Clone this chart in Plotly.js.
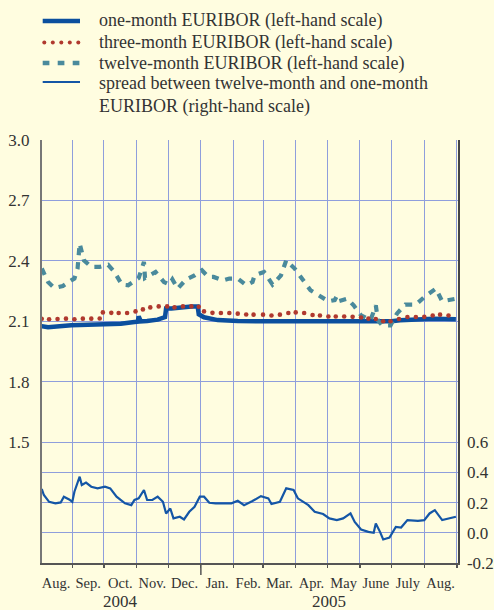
<!DOCTYPE html>
<html><head><meta charset="utf-8">
<script src="https://cdn.plot.ly/plotly-3.0.1.min.js"></script>
<style>html,body{margin:0;padding:0;background:#fffde0;}#chart{width:494px;height:610px;}</style>
</head><body><div id="chart"></div>
<script>
// ---------- data ----------
const oneMonthDates = ['2004-08-03','2004-08-09','2004-08-31','2004-10-01','2004-10-17','2004-10-30','2004-11-02','2004-11-03','2004-11-05','2004-11-11','2004-11-21','2004-11-28','2004-11-29','2004-12-04','2004-12-13','2004-12-23','2004-12-29','2004-12-30','2005-01-04','2005-01-08','2005-01-17','2005-02-05','2005-02-19','2005-03-15','2005-04-10','2005-05-10','2005-06-10','2005-07-01','2005-07-09','2005-08-04','2005-08-10','2005-08-31'];
const oneMonthValues = [2.076,2.071,2.080,2.083,2.088,2.096,2.098,2.124,2.099,2.101,2.108,2.121,2.163,2.163,2.169,2.173,2.173,2.135,2.120,2.116,2.106,2.101,2.100,2.101,2.100,2.100,2.099,2.100,2.105,2.110,2.113,2.110];

const threeMonthDates = ['2004-08-03','2004-08-10','2004-08-18','2004-08-26','2004-09-03','2004-09-11','2004-09-19','2004-09-27','2004-09-30','2004-10-08','2004-10-15','2004-10-23','2004-10-31','2004-11-07','2004-11-14','2004-11-22','2004-11-30','2004-12-07','2004-12-15','2004-12-23','2004-12-30','2005-01-04','2005-01-12','2005-01-20','2005-01-28','2005-02-05','2005-02-13','2005-02-20','2005-03-01','2005-03-09','2005-03-17','2005-03-25','2005-04-01','2005-04-09','2005-04-17','2005-04-24','2005-05-02','2005-05-09','2005-05-17','2005-05-25','2005-06-02','2005-06-09','2005-06-16','2005-06-23','2005-06-30','2005-07-08','2005-07-16','2005-07-24','2005-08-01','2005-08-09','2005-08-16','2005-08-24'];
const threeMonthValues = [2.113,2.110,2.111,2.113,2.110,2.113,2.113,2.114,2.144,2.142,2.141,2.141,2.149,2.159,2.169,2.174,2.174,2.169,2.174,2.174,2.172,2.149,2.142,2.141,2.141,2.138,2.134,2.133,2.133,2.129,2.133,2.141,2.144,2.141,2.131,2.129,2.124,2.124,2.124,2.122,2.119,2.113,2.111,2.100,2.100,2.111,2.121,2.121,2.122,2.129,2.133,2.129];

const twelveMonthDates = ['2004-08-03','2004-08-09','2004-08-15','2004-08-23','2004-08-31','2004-09-03','2004-09-06','2004-09-08','2004-09-12','2004-09-19','2004-09-27','2004-10-05','2004-10-11','2004-10-18','2004-10-24','2004-10-30','2004-11-03','2004-11-08','2004-11-09','2004-11-19','2004-11-27','2004-12-02','2004-12-05','2004-12-10','2004-12-18','2004-12-26','2005-01-02','2005-01-08','2005-01-13','2005-01-22','2005-01-28','2005-02-05','2005-02-13','2005-02-19','2005-02-21','2005-03-02','2005-03-10','2005-03-18','2005-03-23','2005-03-31','2005-04-07','2005-04-15','2005-04-22','2005-05-02','2005-05-08','2005-05-10','2005-05-12','2005-05-20','2005-05-26','2005-06-02','2005-06-11','2005-06-16','2005-06-18','2005-06-22','2005-06-30','2005-07-06','2005-07-14','2005-07-24','2005-08-02','2005-08-12','2005-08-18','2005-08-28','2005-08-31'];
const twelveMonthValues = [2.362,2.295,2.265,2.275,2.303,2.312,2.362,2.486,2.403,2.370,2.370,2.380,2.345,2.282,2.279,2.303,2.315,2.395,2.315,2.345,2.295,2.282,2.308,2.262,2.308,2.328,2.353,2.320,2.320,2.303,2.312,2.312,2.279,2.295,2.328,2.345,2.282,2.328,2.403,2.362,2.312,2.254,2.232,2.199,2.205,2.225,2.200,2.212,2.179,2.129,2.105,2.179,2.105,2.080,2.080,2.138,2.183,2.183,2.225,2.262,2.199,2.209,2.212];

const spreadDates = ['2004-08-03','2004-08-05','2004-08-10','2004-08-16','2004-08-21','2004-08-24','2004-08-29','2004-09-01','2004-09-03','2004-09-08','2004-09-10','2004-09-14','2004-09-19','2004-09-25','2004-10-02','2004-10-07','2004-10-13','2004-10-21','2004-10-27','2004-10-30','2004-11-03','2004-11-08','2004-11-11','2004-11-16','2004-11-21','2004-11-26','2004-11-29','2004-12-03','2004-12-06','2004-12-12','2004-12-16','2004-12-21','2004-12-26','2004-12-31','2005-01-04','2005-01-09','2005-01-15','2005-01-23','2005-01-30','2005-02-05','2005-02-11','2005-02-19','2005-02-27','2005-03-06','2005-03-09','2005-03-17','2005-03-23','2005-03-30','2005-04-03','2005-04-13','2005-04-19','2005-04-27','2005-05-03','2005-05-10','2005-05-16','2005-05-23','2005-05-27','2005-06-02','2005-06-09','2005-06-14','2005-06-16','2005-06-20','2005-06-23','2005-06-29','2005-07-05','2005-07-10','2005-07-16','2005-07-26','2005-08-01','2005-08-06','2005-08-11','2005-08-18','2005-08-25','2005-08-31'];
const spreadValues = [0.290,0.250,0.205,0.195,0.201,0.239,0.221,0.205,0.272,0.371,0.316,0.332,0.305,0.294,0.305,0.294,0.239,0.195,0.183,0.217,0.228,0.283,0.217,0.217,0.239,0.205,0.128,0.161,0.095,0.106,0.088,0.139,0.172,0.239,0.239,0.199,0.195,0.195,0.195,0.212,0.183,0.210,0.243,0.228,0.190,0.205,0.294,0.283,0.228,0.183,0.139,0.124,0.095,0.084,0.095,0.128,0.072,0.022,0.006,0.000,0.062,0.006,-0.044,-0.031,0.039,0.035,0.084,0.079,0.084,0.128,0.150,0.084,0.095,0.106];

const legendLabels = ['one-month EURIBOR (left-hand scale)','three-month EURIBOR (left-hand scale)','twelve-month EURIBOR (left-hand scale)','spread between twelve-month and one-month','EURIBOR (right-hand scale)'];
const monthStarts = ['2004-08-01','2004-09-01','2004-10-01','2004-11-01','2004-12-01','2005-01-01','2005-02-01','2005-03-01','2005-04-01','2005-05-01','2005-06-01','2005-07-01','2005-08-01','2005-09-01'];
const monthLabels = ['Aug.','Sep.','Oct.','Nov.','Dec.','Jan.','Feb.','Mar.','Apr.','May','June','July','Aug.'];
const yearLabels = ['2004','2005'];
const yearBounds = ['2004-08-01','2005-01-01','2005-09-01'];
const leftTicks = [1.5,1.8,2.1,2.4,2.7,3.0];
const rightTicks = [-0.2,0.0,0.2,0.4,0.6];

// ---------- styling / layout ----------
const W=494,H=610,M={l:42,r:36,t:140,b:47};
const PW=W-M.l-M.r, PH=H-M.t-M.b;
const px2x=p=>(p-M.l)/PW, px2y=p=>(H-M.b-p)/PH;
const BG='#fffde0', GRID='#8f9edc', TXT='#333333';
const C1='#0b4f9e', C3='#b0392e', C12='#4a8a9c', CS='#1456a6';
const FONT='Liberation Serif';

function mid(a,b){const ta=Date.parse(a+'T00:00:00Z'),tb=Date.parse(b+'T00:00:00Z');return new Date((ta+tb)/2).toISOString().slice(0,19).replace('T',' ');}
const monthMids = monthLabels.map((_,i)=>mid(monthStarts[i],monthStarts[i+1]));
const yearMids = yearLabels.map((_,i)=>mid(yearBounds[i],yearBounds[i+1]));

const traces = [
  {x:spreadDates,y:spreadValues,yaxis:'y2',mode:'lines',line:{color:CS,width:2.2},name:legendLabels[3],showlegend:false},
  {x:oneMonthDates,y:oneMonthValues,mode:'lines',line:{color:C1,width:4.5},name:legendLabels[0],showlegend:false},
  {x:twelveMonthDates,y:twelveMonthValues,mode:'lines',line:{color:C12,width:4.2,dash:'7px,7px'},name:legendLabels[2],showlegend:false},
  {x:threeMonthDates,y:threeMonthValues,mode:'markers',marker:{color:C3,size:4.6},name:legendLabels[1],showlegend:false}
];

const shapes=[];
const annotations=[];
const rowY=[21,42.5,63,82];
const lx0=42.7,lx1=80;
shapes.push({type:'line',xref:'paper',yref:'paper',x0:px2x(lx0),x1:px2x(lx1),y0:px2y(rowY[0]),y1:px2y(rowY[0]),line:{color:C1,width:4.5}});
for(let i=0;i<5;i++){const cx=44.3+i*8.5,r=2.0;shapes.push({type:'circle',xref:'paper',yref:'paper',x0:px2x(cx-r),x1:px2x(cx+r),y0:px2y(rowY[1]-r),y1:px2y(rowY[1]+r),fillcolor:C3,line:{width:0}});}
shapes.push({type:'line',xref:'paper',yref:'paper',x0:px2x(lx0),x1:px2x(lx1),y0:px2y(rowY[2]),y1:px2y(rowY[2]),line:{color:C12,width:4.5,dash:'6.7px,8.3px'}});
shapes.push({type:'line',xref:'paper',yref:'paper',x0:px2x(lx0),x1:px2x(lx1),y0:px2y(rowY[3]),y1:px2y(rowY[3]),line:{color:CS,width:2.2}});
const textY=[21,42.5,63,83,106.5];
legendLabels.forEach((t,i)=>annotations.push({text:t,xref:'paper',yref:'paper',x:px2x(97),y:px2y(textY[i]),xanchor:'left',yanchor:'middle',showarrow:false,font:{family:FONT,size:18,color:TXT}}));
// year labels
yearLabels.forEach((t,i)=>annotations.push({text:t,xref:'x',yref:'paper',x:yearMids[i],y:px2y(601.5),yanchor:'middle',xanchor:'center',showarrow:false,font:{family:FONT,size:17,color:TXT}}));
// long year-separator tick
shapes.push({type:'line',xref:'x',yref:'paper',x0:monthStarts[5],x1:monthStarts[5],y0:0,y1:px2y(575),line:{color:'#555',width:1.5}});

const layout={
  width:W,height:H,margin:M,paper_bgcolor:BG,plot_bgcolor:BG,showlegend:false,
  font:{family:FONT,color:TXT},
  xaxis:{type:'date',range:['2004-08-03 06:00','2005-09-02 00:00'],tickmode:'array',tickvals:monthMids,ticktext:monthLabels,
    ticks:'',showgrid:false,tickangle:0,tickfont:{family:FONT,size:14.5,color:TXT},ticklabelstandoff:6,
    showline:true,linecolor:'#555',linewidth:1.5,zeroline:false,
    minor:{tickmode:'linear',tick0:'2004-08-01',dtick:'M1',showgrid:true,gridcolor:GRID,gridwidth:1,ticks:'outside',ticklen:3,tickcolor:'#555',tickwidth:1.2}},
  yaxis:{range:[0.9,3.0],tickmode:'array',tickvals:leftTicks,ticktext:leftTicks.map(v=>v.toFixed(1)),showgrid:true,gridcolor:GRID,gridwidth:1,
    zeroline:false,showline:true,linecolor:'#777',linewidth:2,ticks:'',tickfont:{family:FONT,size:17,color:TXT},ticklabelstandoff:7},
  yaxis2:{overlaying:'y',side:'right',range:[-0.2,2.6],tickmode:'array',tickvals:rightTicks,ticktext:rightTicks.map(v=>v.toFixed(1)),showgrid:true,gridcolor:GRID,gridwidth:1,
    zeroline:false,showline:true,linecolor:'#444',linewidth:1.5,ticks:'',tickfont:{family:FONT,size:17,color:TXT},ticklabelstandoff:4},
  shapes:shapes,annotations:annotations
};
Plotly.newPlot('chart',traces,layout,{displayModeBar:false,staticPlot:true});
</script></body></html>
